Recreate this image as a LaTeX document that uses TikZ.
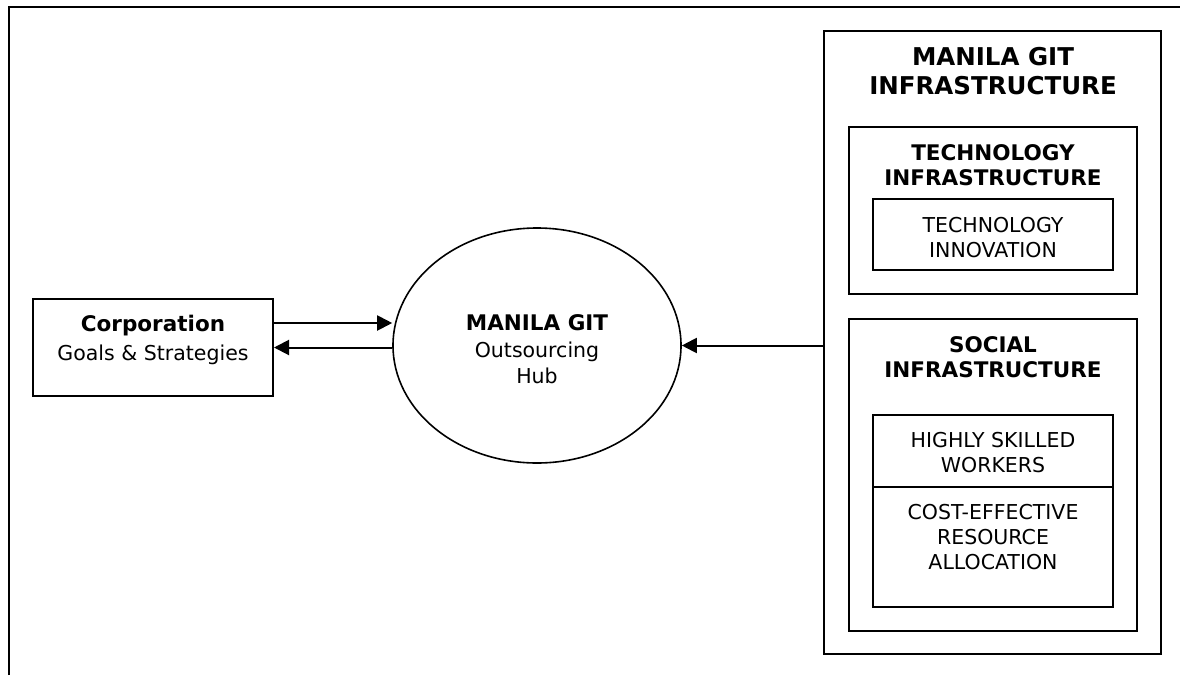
\documentclass[tikz,border=0pt]{standalone}
\usepackage{fontspec}
\setmainfont{DejaVu Sans}
\usetikzlibrary{arrows.meta,shapes.geometric}
\begin{document}
\begin{tikzpicture}[x=1pt,y=-1pt,
  box/.style={draw,line width=2pt,inner sep=0pt},
  txt/.style={align=center,inner sep=0pt,font=\fontsize{20.5}{25}\selectfont},
  hd/.style={align=center,inner sep=0pt,font=\bfseries\fontsize{21.5}{25}\selectfont},
  arr/.style={line width=2pt,-{Triangle[length=15pt,width=15pt]}}]
\useasboundingbox (0,0) rectangle (1180,675);
% frame
\draw[line width=2.5pt] (9,675) -- (9,7) -- (1180,7);
% left box
\node[box,minimum width=240pt,minimum height=97pt] (corp) at (153,347.5) {};
\node[txt,font=\fontsize{20.5}{29}\selectfont] (corptxt) at (153,340) {{\bfseries\fontsize{21.5}{29}\selectfont Corporation}\\Goals \& Strategies};
% hub
\node[draw,line width=1.6pt,ellipse,inner sep=0pt,minimum width=288pt,minimum height=235pt] (hub) at (537,345.5) {};
\node[txt,font=\fontsize{20.5}{26.5}\selectfont] (hubtxt) at (537,349.5) {{\bfseries\fontsize{21.5}{26.5}\selectfont MANILA GIT}\\Outsourcing\\Hub};
% right boxes
\node[box,minimum width=337pt,minimum height=623pt] (git) at (992.5,342.5) {};
\node[hd,font=\bfseries\fontsize{24.5}{29}\selectfont] (gittitle) at (993,71.5) {MANILA GIT\\INFRASTRUCTURE};
\node[box,minimum width=288pt,minimum height=167pt] (techinfra) at (993,210.5) {};
\node[hd] (techtitle) at (993,165.5) {TECHNOLOGY\\INFRASTRUCTURE};
\node[box,minimum width=240pt,minimum height=71pt] (innov) at (993,234.5) {};
\node[txt] (innovtxt) at (993,237.5) {TECHNOLOGY\\INNOVATION};
\node[box,minimum width=288pt,minimum height=312pt] (social) at (993,475) {};
\node[hd] (socialtitle) at (993,357) {SOCIAL\\INFRASTRUCTURE};
\node[box,minimum width=240pt,minimum height=72pt] (skilled) at (993,451) {};
\node[txt] (skilledtxt) at (993,453) {HIGHLY SKILLED\\WORKERS};
\node[box,minimum width=240pt,minimum height=120pt] (cost) at (993,547) {};
\node[txt] (costtxt) at (993,537) {COST-EFFECTIVE\\RESOURCE\\ALLOCATION};
% arrows
\coordinate (c1) at ([yshift=24.5pt]corp.east);
\draw[arr] (c1) -- (c1 -| hub.west);
\draw[arr] (hub.west |- corp.east) -- (corp.east);
\draw[arr] (git.west |- hub.east) -- (hub.east);
\end{tikzpicture}
\end{document}
